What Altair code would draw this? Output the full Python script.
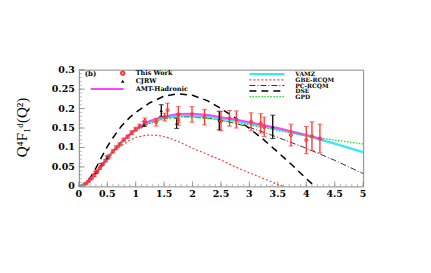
import altair as alt
import pandas as pd

# ---- model curves ----
bx = [0, 0.1, 0.2, 0.3, 0.4, 0.5, 0.6, 0.75, 0.9, 1.0, 1.25, 1.5, 1.75, 2.0, 2.25, 2.5, 2.75, 3.0, 3.5, 4.0, 4.5, 5.0]
vamz = [0, 0.005, 0.017, 0.034, 0.053, 0.072, 0.09, 0.114, 0.134, 0.146, 0.166, 0.177, 0.182, 0.183, 0.18, 0.175, 0.169, 0.162, 0.147, 0.13, 0.11, 0.088]
gpd = [0, 0.005, 0.016, 0.032, 0.05, 0.069, 0.087, 0.111, 0.131, 0.143, 0.162, 0.173, 0.178, 0.178, 0.175, 0.17, 0.164, 0.158, 0.144, 0.13, 0.119, 0.109]
pcrcqm = [0, 0.005, 0.016, 0.033, 0.052, 0.071, 0.089, 0.112, 0.132, 0.144, 0.163, 0.175, 0.18, 0.179, 0.176, 0.17, 0.162, 0.152, 0.126, 0.098, 0.067, 0.033]
amt_x = [0, 0.1, 0.2, 0.3, 0.4, 0.5, 0.6, 0.75, 0.9, 1.0, 1.25, 1.5, 1.75, 2.0, 2.25, 2.5, 2.75, 3.0, 3.5, 4.0, 4.3]
amt = [0, 0.005, 0.017, 0.034, 0.053, 0.072, 0.09, 0.114, 0.134, 0.147, 0.168, 0.18, 0.186, 0.187, 0.184, 0.178, 0.172, 0.165, 0.15, 0.132, 0.12]
dse_x = [0, 0.1, 0.2, 0.3, 0.4, 0.5, 0.6, 0.75, 0.9, 1.0, 1.25, 1.5, 1.75, 2.0, 2.25, 2.5, 2.75, 3.0, 3.25, 3.5, 3.75, 4.0, 4.15]
dse = [0, 0.007, 0.022, 0.047, 0.075, 0.102, 0.125, 0.155, 0.178, 0.19, 0.215, 0.232, 0.238, 0.234, 0.221, 0.2, 0.176, 0.149, 0.12, 0.088, 0.055, 0.02, 0]
gbe_x = [0, 0.1, 0.2, 0.3, 0.4, 0.5, 0.6, 0.75, 0.9, 1.0, 1.2, 1.4, 1.6, 1.8, 2.0, 2.25, 2.5, 2.75, 3.0, 3.25, 3.5, 3.6]
gbe = [0, 0.006, 0.02, 0.038, 0.056, 0.072, 0.087, 0.105, 0.119, 0.126, 0.132, 0.131, 0.124, 0.112, 0.098, 0.083, 0.068, 0.05, 0.035, 0.02, 0.005, 0]

# ---- data points ----
tw_x = [0.12, 0.17, 0.22, 0.27, 0.32, 0.37, 0.42, 0.47, 0.53, 0.6, 0.66, 0.72, 0.79, 0.86, 0.93, 1.0, 1.07, 1.16,
        1.36, 1.51, 1.56, 1.75, 1.75, 1.99, 2.21, 2.5, 2.65, 2.77, 3.03, 3.2, 3.26, 3.73, 4.0, 4.1, 4.24]
tw_y = [0.007, 0.013, 0.02, 0.028, 0.038, 0.047, 0.057, 0.066, 0.077, 0.09, 0.1, 0.108, 0.12, 0.128, 0.138, 0.147, 0.155, 0.168,
        0.165, 0.178, 0.196, 0.185, 0.172, 0.185, 0.178, 0.168, 0.175, 0.172, 0.166, 0.162, 0.153, 0.132, 0.119, 0.129, 0.123]
tw_e = [0.002, 0.002, 0.002, 0.003, 0.003, 0.003, 0.003, 0.003, 0.004, 0.004, 0.004, 0.004, 0.004, 0.004, 0.005, 0.005, 0.005, 0.008,
        0.01, 0.01, 0.018, 0.02, 0.015, 0.02, 0.02, 0.025, 0.02, 0.022, 0.023, 0.025, 0.025, 0.028, 0.035, 0.037, 0.037]
cj_x = [0.3, 0.4, 0.5, 1.15, 1.45, 1.72, 2.47, 3.41]
cj_y = [0.036, 0.056, 0.074, 0.16, 0.195, 0.162, 0.169, 0.153]
cj_e = [0.003, 0.003, 0.004, 0.006, 0.015, 0.013, 0.024, 0.03]

x_ticks = [0, 0.5, 1, 1.5, 2, 2.5, 3, 3.5, 4, 4.5, 5]
x_labels = ["0", "0.5", "1", "1.5", "2", "2.5", "3", "3.5", "4", "4.5", "5"]
y_ticks = [0, 0.05, 0.1, 0.15, 0.2, 0.25, 0.3]
y_labels = ["0", "0.05", "0.1", "0.15", "0.2", "0.25", "0.3"]

W, H = 285, 117
FONT = "Liberation Serif"
BFONT = "DejaVu Serif"

xs = alt.Scale(domain=[0, 5], nice=False, zero=False)
ys = alt.Scale(domain=[0, 0.3], nice=False, zero=False)


def curve(xv, yv, color, width, dash=None):
    df = pd.DataFrame({"x": xv, "y": yv})
    kw = dict(color=color, strokeWidth=width, clip=True)
    if dash:
        kw["strokeDash"] = dash
    return alt.Chart(df).mark_line(**kw).encode(
        x=alt.X("x:Q", scale=xs, axis=None),
        y=alt.Y("y:Q", scale=ys, axis=None),
    )


layers = [
    curve(gbe_x, gbe, "#ff3b3b", 1.2, [2, 2]),
    curve(dse_x, dse, "black", 1.5, [7, 5]),
    curve(bx, pcrcqm, "#333333", 1.0, [6, 2, 1, 2]),
    curve(bx, vamz, "#33e8ff", 2.2),
    curve(amt_x, amt, "#ff44ff", 2.0),
    curve(bx, gpd, "#22dd22", 1.3, [1.5, 1.5]),
]


def points(xv, yv, ev, color, shape, filled):
    df = pd.DataFrame({"x": xv, "y": yv, "lo": [a - b for a, b in zip(yv, ev)], "hi": [a + b for a, b in zip(yv, ev)]})
    base = alt.Chart(df)
    X = alt.X("x:Q", scale=xs, axis=None)
    bars = base.mark_rule(color=color, strokeWidth=1.3).encode(
        x=X, y=alt.Y("lo:Q", scale=ys, axis=None), y2="hi:Q")
    cap1 = base.mark_tick(color=color, orient="horizontal", size=5, thickness=1).encode(
        x=X, y=alt.Y("lo:Q", scale=ys, axis=None))
    cap2 = base.mark_tick(color=color, orient="horizontal", size=5, thickness=1).encode(
        x=X, y=alt.Y("hi:Q", scale=ys, axis=None))
    pts = base.mark_point(shape=shape, filled=filled, color=color, size=10, strokeWidth=1, opacity=1).encode(
        x=X, y=alt.Y("y:Q", scale=ys, axis=None))
    return [bars, cap1, cap2, pts]


layers += points(cj_x, cj_y, cj_e, "black", "triangle-up", True)
layers += points(tw_x, tw_y, tw_e, "#ff3030", "circle", False)

# inward ticks
major_x = pd.DataFrame({"v": x_ticks, "t": x_labels})
minor_x = pd.DataFrame({"v": [i / 10 for i in range(51)]})
major_y = pd.DataFrame({"v": y_ticks, "t": y_labels})
minor_y = pd.DataFrame({"v": [i / 100 for i in range(31)]})
tick_col = "#888888"
layers += [
    alt.Chart(major_x).mark_rule(color=tick_col, strokeWidth=0.8).encode(
        x=alt.X("v:Q", scale=xs, axis=None), y=alt.value(H), y2=alt.value(H - 5)),
    alt.Chart(minor_x).mark_rule(color=tick_col, strokeWidth=0.6).encode(
        x=alt.X("v:Q", scale=xs, axis=None), y=alt.value(H), y2=alt.value(H - 2.5)),
    alt.Chart(major_y).mark_rule(color=tick_col, strokeWidth=0.8).encode(
        y=alt.Y("v:Q", scale=ys, axis=None), x=alt.value(0), x2=alt.value(6)),
    alt.Chart(minor_y).mark_rule(color=tick_col, strokeWidth=0.6).encode(
        y=alt.Y("v:Q", scale=ys, axis=None), x=alt.value(0), x2=alt.value(3)),
    # tick labels
    alt.Chart(major_x).mark_text(font=BFONT, fontWeight="bold", fontSize=9.5, baseline="top", align="center",
                                 color="black").encode(
        x=alt.X("v:Q", scale=xs, axis=None), y=alt.value(H + 3), text="t:N"),
    alt.Chart(major_y).mark_text(font=BFONT, fontWeight="bold", fontSize=9.5, baseline="middle", align="right",
                                 color="black").encode(
        y=alt.Y("v:Q", scale=ys, axis=None), x=alt.value(-4), text="t:N"),
]

# y axis title
layers.append(
    alt.Chart(pd.DataFrame({"t": ["Q⁴F₁ᵈ(Q²)"]})).mark_text(
        font=FONT, fontSize=15, angle=270, color="black").encode(
        text="t:N", x=alt.value(-57), y=alt.value(58))
)

# legends (manual)
def label(text, px, py, size=7, align="left"):
    return alt.Chart(pd.DataFrame({"t": [text]})).mark_text(
        font=BFONT, fontSize=size, fontWeight="bold", align=align, baseline="middle", color="black").encode(
        text="t:N", x=alt.value(px), y=alt.value(py))


def seg(px1, px2, py, color, width, dash=None):
    kw = dict(color=color, strokeWidth=width)
    if dash:
        kw["strokeDash"] = dash
    return alt.Chart(pd.DataFrame({"a": [0]})).mark_rule(**kw).encode(
        x=alt.value(px1), x2=alt.value(px2), y=alt.value(py))


layers += [
    label("(b)", 6, 4.5, 7),
    alt.Chart(pd.DataFrame({"a": [0]})).mark_point(shape="circle", filled=False, color="#ff3030", size=12, opacity=1).encode(
        x=alt.value(44), y=alt.value(3.5)),
    label("This Work", 57, 3.5, 6.5),
    alt.Chart(pd.DataFrame({"a": [0]})).mark_point(shape="triangle-up", filled=True, color="black", size=12, opacity=1).encode(
        x=alt.value(44), y=alt.value(11.5)),
    label("CJRW", 57, 11.5, 6.5),
    seg(12, 45, 19.5, "#ff44ff", 2),
    label("AMT-Hadronic", 57, 19.5, 6.5),
    seg(171, 206, 4.5, "#33e8ff", 2.2),
    label("VAMZ", 217, 4.5, 6),
    seg(171, 206, 10.2, "#ff3b3b", 1.2, [2, 2]),
    label("GBE-RCQM", 217, 10.2, 6),
    seg(171, 206, 15.9, "#333333", 1.0, [6, 2, 1, 2]),
    label("PC-RCQM", 217, 15.9, 6),
    seg(171, 206, 21.4, "black", 1.5, [7, 5]),
    label("DSE", 217, 21.4, 6),
    seg(171, 206, 27, "#22dd22", 1.3, [1.5, 1.5]),
    label("GPD", 217, 27, 6),
]

chart = alt.layer(*layers).properties(
    width=W, height=H,
    autosize=alt.AutoSizeParams(type="none"),
    padding={"left": 71, "top": 61.5, "right": 60, "bottom": 80},
    background="white",
).configure_view(stroke="#888888", strokeWidth=1)

chart.save("out.html", embed_options={"renderer": "svg", "actions": False})
